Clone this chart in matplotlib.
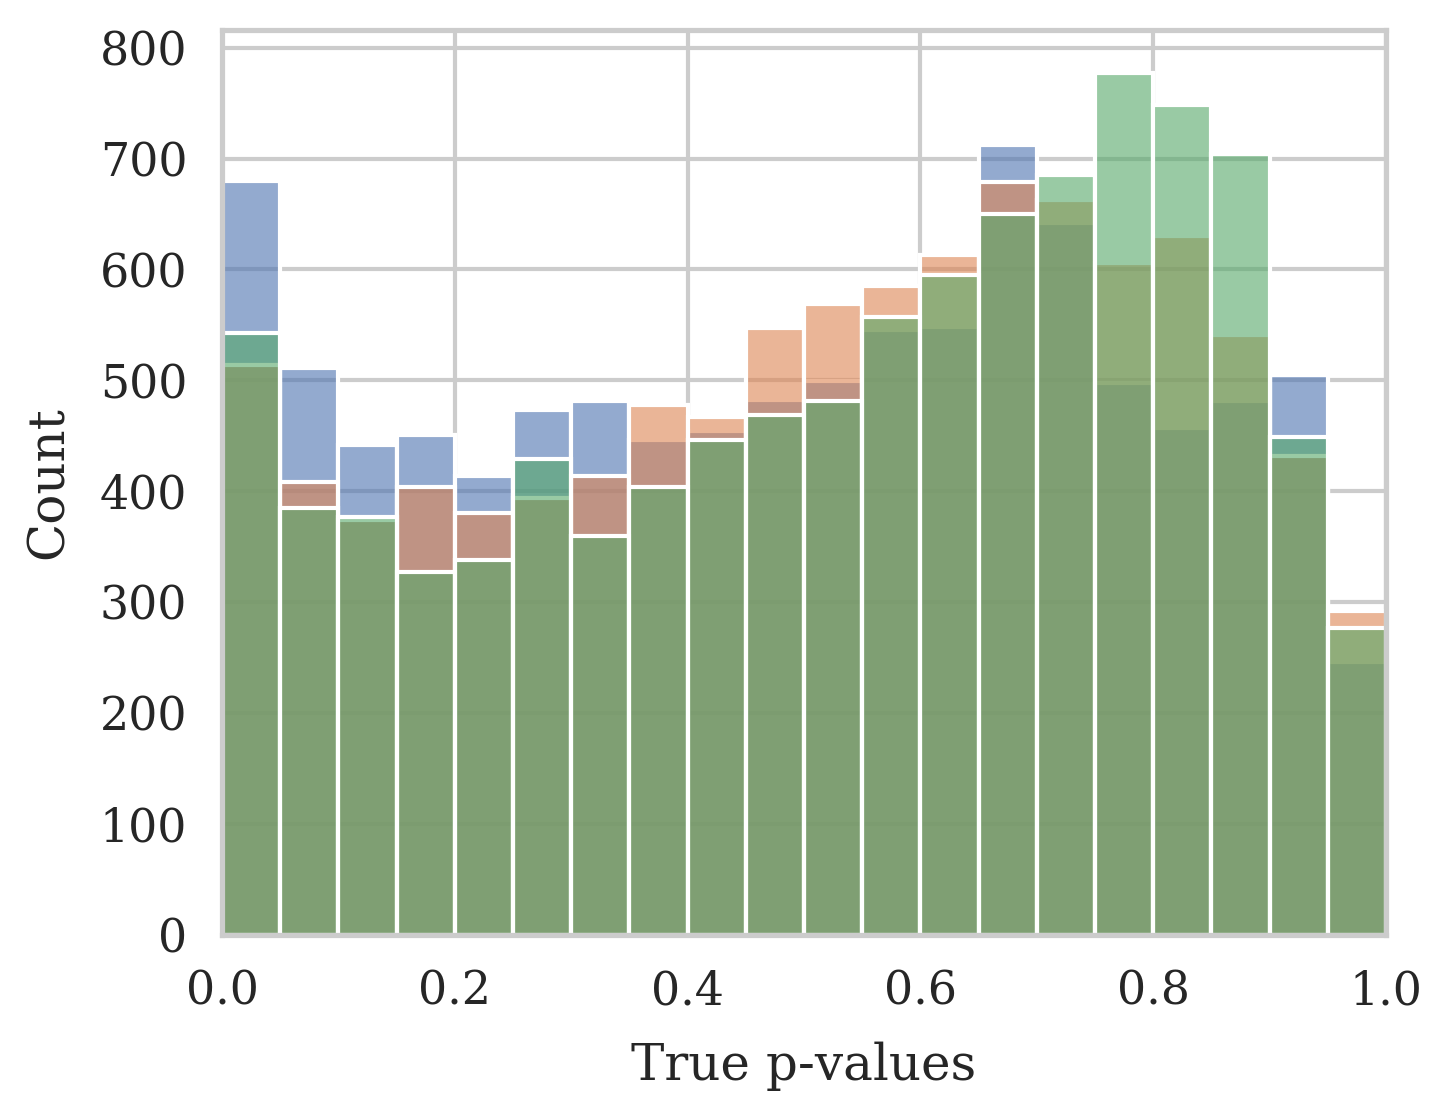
import numpy as np
import matplotlib
matplotlib.use("Agg")
import matplotlib.pyplot as plt
import seaborn as sns
from matplotlib.colors import to_rgba

# Data (counts per bin, 20 bins over [0, 1])
bin_edges = [i / 20 for i in range(21)]
series_blue = [680, 511, 442, 451, 414, 473, 481, 446, 454, 482,
               499, 545, 548, 712, 642, 498, 457, 481, 505, 246]
series_orange = [514, 408, 374, 404, 380, 394, 414, 478, 467, 547,
                 569, 585, 613, 679, 663, 606, 630, 541, 432, 292]
series_green = [543, 385, 377, 327, 338, 429, 360, 404, 446, 469,
                481, 557, 595, 650, 685, 777, 748, 704, 449, 277]
x_ticks = [0.0, 0.2, 0.4, 0.6, 0.8, 1.0]
y_ticks = [0, 100, 200, 300, 400, 500, 600, 700, 800]

sns.set_theme(context="talk", style="whitegrid", font="serif")
plt.rcParams['font.family'] = ['DejaVu Serif']

palette = sns.color_palette("deep")
colors = [palette[0], palette[1], palette[2]]

fig = plt.figure(figsize=(7.26, 5.58), dpi=200)
ax = fig.add_axes([0.1529, 0.1622, 0.8016, 0.8109])

lefts = np.array(bin_edges[:-1])
widths = np.diff(bin_edges)
for vals, c in zip([series_blue, series_orange, series_green], colors):
    ax.bar(lefts, vals, width=widths, align="edge",
           facecolor=to_rgba(c, 0.6), edgecolor="white", linewidth=1.5)

ax.set_xlim(0, 1)
ax.set_xticks(x_ticks)
ax.set_yticks(y_ticks)
ax.set_xticklabels([f"{t:.1f}" for t in x_ticks])
ax.set_yticklabels([str(t) for t in y_ticks])
ax.set_xlabel("True p-values", labelpad=9.5)
ax.set_ylabel("Count", labelpad=9.5)
ax.set_axisbelow(True)

fig.savefig("out.png", dpi=200)
